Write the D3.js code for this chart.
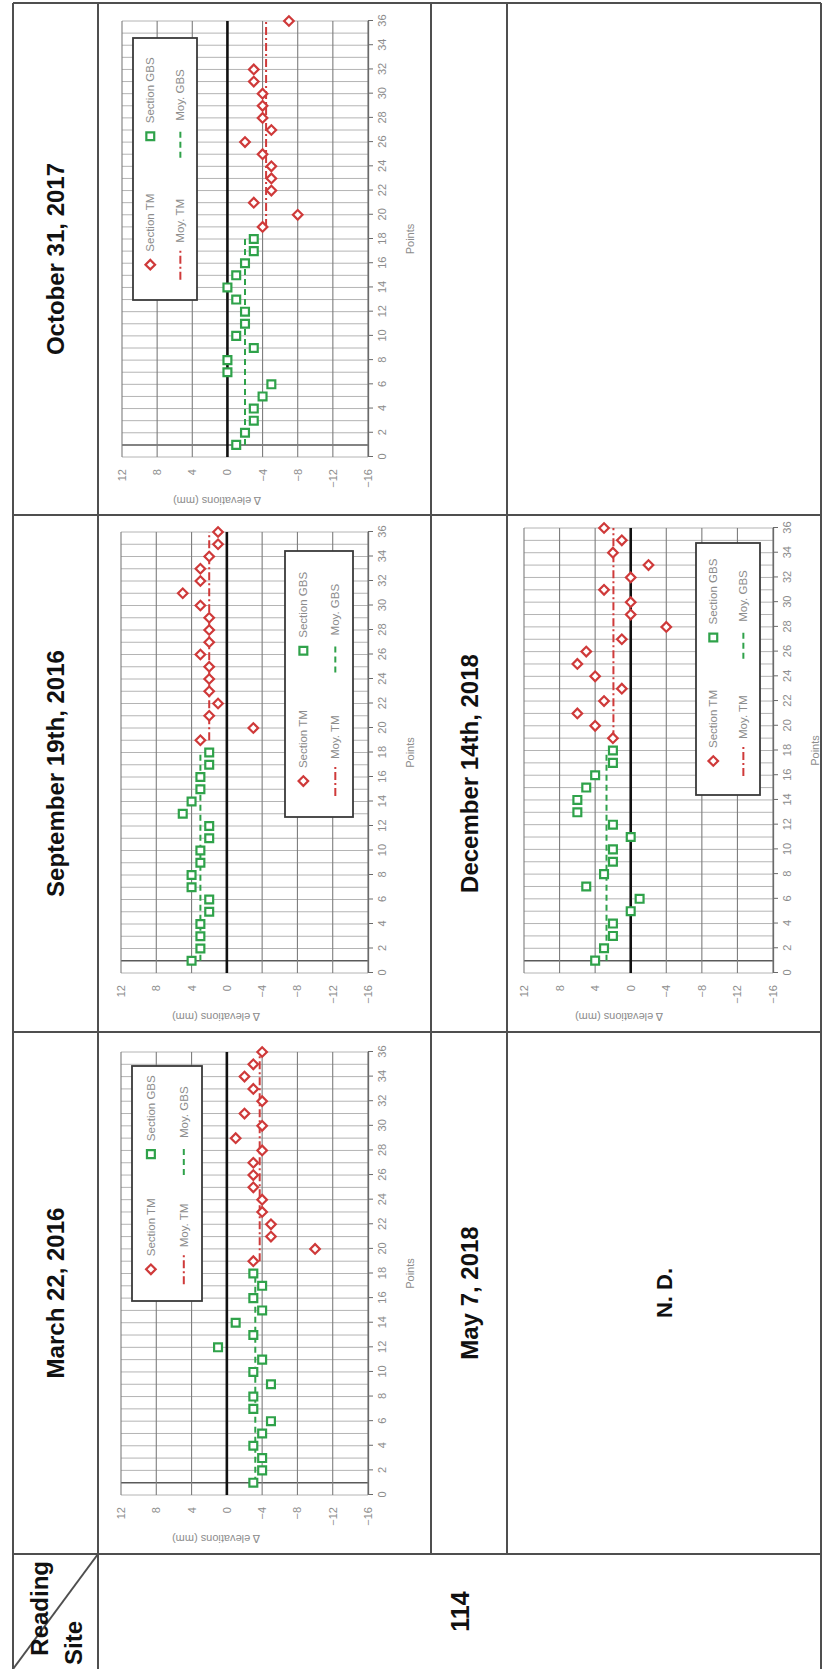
<!DOCTYPE html>
<html>
<head>
<meta charset="utf-8">
<script src="https://cdn.jsdelivr.net/npm/d3@7"></script>
<style>
  html, body { margin: 0; padding: 0; background: #fff; }
  svg { display: block; }
</style>
</head>
<body>
<svg id="page" width="822" height="1669"></svg>
<script>
// ---- data -------------------------------------------------------------
const pointTicks = d3.range(0, 37, 2);
const elevationTicks = [12, 8, 4, 0, -4, -8, -12, -16];
const gbsPoints = d3.range(1, 19);   // points 1..18 of section GBS
const tmPoints = d3.range(19, 37);   // points 19..36 of section TM

// Δ elevations (mm) per point
const gbsMar2016 = [-3, -4, -4, -3, -4, -5, -3, -3, -5, -3, -4, 1, -3, -1, -4, -3, -4, -3];
const tmMar2016  = [-3, -10, -5, -5, -4, -4, -3, -3, -3, -4, -1, -4, -2, -4, -3, -2, -3, -4];
const gbsSep2016 = [4, 3, 3, 3, 2, 2, 4, 4, 3, 3, 2, 2, 5, 4, 3, 3, 2, 2];
const tmSep2016  = [3, -3, 2, 1, 2, 2, 2, 3, 2, 2, 2, 3, 5, 3, 3, 2, 1, 1];
const gbsOct2017 = [-1, -2, -3, -3, -4, -5, 0, 0, -3, -1, -2, -2, -1, 0, -1, -2, -3, -3];
const tmOct2017  = [-4, -8, -3, -5, -5, -5, -4, -2, -5, -4, -4, -4, -3, -3, null, null, null, -7];
const gbsDec2018 = [4, 3, 2, 2, 0, -1, 5, 3, 2, 2, 0, 2, 6, 6, 5, 4, 2, 2];
const tmDec2018  = [2, 4, 6, 3, 1, 4, 6, 5, 1, -4, 0, 0, 3, 0, -2, 2, 1, 3];

const dateLabels = ["March 22, 2016", "September 19th, 2016", "October 31, 2017",
                    "May 7, 2018", "December 14th, 2018"];
const siteLabel = "114";
const noDataLabel = "N. D.";
const cornerLabels = ["Reading", "Site"];
const legendLabels = ["Section TM", "Section GBS", "Moy. TM", "Moy. GBS"];
const axisTitles = ["Points", "Δ elevations (mm)"];

// ---- styles -----------------------------------------------------------
const RED = "#cf3a3a";
const GREEN = "#2fa24a";
const GRID_MINOR = "#b4b4b4";
const GRID_MAJOR = "#7d7d7d";
const TICK_TEXT = "#8c8c8c";
const RULE = "#4f4f4f";
const BOLD_FONT = "'Liberation Sans', Arial, sans-serif";
const CHART_FONT = "'Liberation Sans', Arial, sans-serif";

// The sheet is laid out in landscape and turned a quarter turn to fit the page.
const SHEET_W = 1669, SHEET_H = 822;
const svg = d3.select("#page");
const sheet = svg.append("g").attr("transform", `translate(0,${SHEET_W}) rotate(-90)`);

// ---- table grid -------------------------------------------------------
const rowY = { top: 13, head1: 98, mid: 431, head2: 507, bottom: 821 };
const colX = { left: 0, site: 115, c1: 637, c2: 1154, right: 1666 };

const rules = [
  [colX.left, rowY.top, colX.right, rowY.top],
  [colX.left, rowY.head1, colX.right, rowY.head1],
  [colX.site, rowY.mid, colX.right, rowY.mid],
  [colX.site, rowY.head2, colX.right, rowY.head2],
  [colX.left, rowY.bottom, colX.right, rowY.bottom],
  [colX.site, rowY.top, colX.site, rowY.bottom],
  [colX.c1, rowY.top, colX.c1, rowY.bottom],
  [colX.c2, rowY.top, colX.c2, rowY.bottom],
  [colX.right, rowY.top, colX.right, rowY.bottom],
  [colX.left, rowY.top, colX.site, rowY.head1] // diagonal of the corner cell
];
sheet.append("g").selectAll("line").data(rules).join("line")
  .attr("x1", d => d[0]).attr("y1", d => d[1])
  .attr("x2", d => d[2]).attr("y2", d => d[3])
  .attr("stroke", RULE).attr("stroke-width", 2);

// ---- header texts -----------------------------------------------------
const headerCells = [
  { text: dateLabels[0], x: (colX.site + colX.c1) / 2, y: (rowY.top + rowY.head1) / 2 },
  { text: dateLabels[1], x: (colX.c1 + colX.c2) / 2, y: (rowY.top + rowY.head1) / 2 },
  { text: dateLabels[2], x: (colX.c2 + colX.right) / 2, y: (rowY.top + rowY.head1) / 2 },
  { text: dateLabels[3], x: (colX.site + colX.c1) / 2, y: (rowY.mid + rowY.head2) / 2 },
  { text: dateLabels[4], x: (colX.c1 + colX.c2) / 2, y: (rowY.mid + rowY.head2) / 2 }
];
sheet.append("g").selectAll("text").data(headerCells).join("text")
  .attr("x", d => d.x).attr("y", d => d.y)
  .attr("text-anchor", "middle").attr("dominant-baseline", "central")
  .attr("font-family", BOLD_FONT).attr("font-weight", "bold").attr("font-size", 24)
  .attr("fill", "#111").text(d => d.text);

sheet.append("text")
  .attr("x", (colX.left + colX.site) / 2).attr("y", (rowY.head1 + rowY.bottom) / 2)
  .attr("text-anchor", "middle").attr("dominant-baseline", "central")
  .attr("font-family", BOLD_FONT).attr("font-weight", "bold").attr("font-size", 25)
  .attr("fill", "#111").text(siteLabel);

sheet.append("text")
  .attr("x", (colX.site + colX.c1) / 2).attr("y", (rowY.head2 + rowY.bottom) / 2)
  .attr("text-anchor", "middle").attr("dominant-baseline", "central")
  .attr("font-family", BOLD_FONT).attr("font-weight", "bold").attr("font-size", 22)
  .attr("fill", "#111").text(noDataLabel);

sheet.append("text")
  .attr("x", colX.site - 7).attr("y", 48)
  .attr("text-anchor", "end")
  .attr("font-family", BOLD_FONT).attr("font-weight", "bold").attr("font-size", 24)
  .attr("fill", "#111").text(cornerLabels[0]);
sheet.append("text")
  .attr("x", 4).attr("y", 82)
  .attr("font-family", BOLD_FONT).attr("font-weight", "bold").attr("font-size", 24)
  .attr("fill", "#111").text(cornerLabels[1]);

// ---- charts -----------------------------------------------------------
const charts = [
  { gbs: gbsMar2016, tm: tmMar2016, x0: 174, x1: 617, y0: 121, y1: 368, legend: [368, 132, 235, 70] },
  { gbs: gbsSep2016, tm: tmSep2016, x0: 696, x1: 1137, y0: 121, y1: 368, legend: [852, 285, 266, 68] },
  { gbs: gbsOct2017, tm: tmOct2017, x0: 1212, x1: 1648, y0: 122, y1: 368, legend: [1369, 133, 262, 64] },
  { gbs: gbsDec2018, tm: tmDec2018, x0: 696, x1: 1141, y0: 524, y1: 773, legend: [874, 696, 252, 64] }
];

const diamond = d3.symbol().type(d3.symbolSquare).size(46);
const square = d3.symbol().type(d3.symbolSquare).size(62);

function drawChart(c) {
  const x = d3.scaleLinear().domain([0, 36]).range([c.x0, c.x1]);
  const y = d3.scaleLinear().domain([-16, 12]).range([c.y1, c.y0]);
  const g = sheet.append("g");

  // one vertical rule per point
  g.append("g").selectAll("line").data(d3.range(0, 37)).join("line")
    .attr("x1", d => x(d)).attr("x2", d => x(d))
    .attr("y1", y(12)).attr("y2", y(-16))
    .attr("stroke", d => d === 1 ? "#5a5a5a" : GRID_MINOR)
    .attr("stroke-width", d => d === 1 ? 1.5 : 1);

  // elevation gridlines every 4 mm
  g.append("g").selectAll("line").data(elevationTicks.filter(v => v !== 0)).join("line")
    .attr("x1", x(0)).attr("x2", x(36))
    .attr("y1", d => y(d)).attr("y2", d => y(d))
    .attr("stroke", GRID_MAJOR).attr("stroke-width", 1.1);

  // points axis along the bottom
  const xAxis = g.append("g").attr("transform", `translate(0,${y(-16)})`)
    .call(d3.axisBottom(x).tickValues(pointTicks).tickSizeInner(5).tickSizeOuter(0).tickPadding(5));
  xAxis.select(".domain").attr("stroke", "#6a6a6a").attr("stroke-width", 1.3);
  xAxis.selectAll(".tick line").attr("stroke", "#6a6a6a");
  xAxis.selectAll(".tick text").attr("fill", TICK_TEXT)
    .attr("font-family", CHART_FONT).attr("font-size", 11);

  // elevation labels on the left
  const yAxis = g.append("g").attr("transform", `translate(${x(0)},0)`)
    .call(d3.axisLeft(y).tickValues(elevationTicks).tickSize(0).tickPadding(12));
  yAxis.select(".domain").remove();
  yAxis.selectAll(".tick text").attr("fill", TICK_TEXT)
    .attr("font-family", CHART_FONT).attr("font-size", 11);

  // axis titles
  g.append("text").attr("x", (x(0) + x(36)) / 2).attr("y", y(-16) + 46)
    .attr("text-anchor", "middle").attr("fill", TICK_TEXT)
    .attr("font-family", CHART_FONT).attr("font-size", 11).text(axisTitles[0]);
  g.append("text")
    .attr("transform", `translate(${x(0) - 40},${y(12) + 95}) rotate(-90)`)
    .attr("text-anchor", "middle").attr("fill", TICK_TEXT)
    .attr("font-family", CHART_FONT).attr("font-size", 11).text(axisTitles[1]);

  // zero reference
  g.append("line").attr("x1", x(0)).attr("x2", x(36))
    .attr("y1", y(0)).attr("y2", y(0))
    .attr("stroke", "#111").attr("stroke-width", 2.6);

  // section averages
  const gbsPairs = gbsPoints.map((p, i) => [p, c.gbs[i]]).filter(d => d[1] != null);
  const tmPairs = tmPoints.map((p, i) => [p, c.tm[i]]).filter(d => d[1] != null);
  const gbsMean = d3.mean(gbsPairs, d => d[1]);
  const tmMean = d3.mean(tmPairs, d => d[1]);
  const meanLine = d3.line().x(d => x(d[0])).y(d => y(d[1]));
  g.append("path").datum([[1, gbsMean], [18, gbsMean]]).attr("d", meanLine)
    .attr("fill", "none").attr("stroke", GREEN).attr("stroke-width", 2)
    .attr("stroke-dasharray", "6,4");
  g.append("path").datum([[19, tmMean], [36, tmMean]]).attr("d", meanLine)
    .attr("fill", "none").attr("stroke", RED).attr("stroke-width", 2)
    .attr("stroke-dasharray", "8,3,2,3");

  // section points
  g.append("g").selectAll("path").data(gbsPairs).join("path")
    .attr("d", square)
    .attr("transform", d => `translate(${x(d[0])},${y(d[1])})`)
    .attr("fill", "#fff").attr("stroke", GREEN).attr("stroke-width", 2.2);
  g.append("g").selectAll("path").data(tmPairs).join("path")
    .attr("d", diamond)
    .attr("transform", d => `translate(${x(d[0])},${y(d[1])}) rotate(45)`)
    .attr("fill", "#fff").attr("stroke", RED).attr("stroke-width", 2.2);

  // legend
  const [lx, ly, lw, lh] = c.legend;
  const lg = g.append("g");
  lg.append("rect").attr("x", lx).attr("y", ly).attr("width", lw).attr("height", lh)
    .attr("fill", "#fff").attr("stroke", "#3a3a3a").attr("stroke-width", 1.8);
  const r1 = ly + lh * 0.27, r2 = ly + lh * 0.74;
  const legendItems = [
    { kind: "diamond", label: legendLabels[0], mx: lx + lw * 0.135, ty: r1 },
    { kind: "square", label: legendLabels[1], mx: lx + lw * 0.625, ty: r1 },
    { kind: "tmLine", label: legendLabels[2], mx: lx + lw * 0.135, ty: r2 },
    { kind: "gbsLine", label: legendLabels[3], mx: lx + lw * 0.6, ty: r2 }
  ];
  legendItems.forEach(it => {
    if (it.kind === "diamond") {
      lg.append("path").attr("d", diamond)
        .attr("transform", `translate(${it.mx},${it.ty}) rotate(45)`)
        .attr("fill", "#fff").attr("stroke", RED).attr("stroke-width", 2.2);
    } else if (it.kind === "square") {
      lg.append("path").attr("d", square)
        .attr("transform", `translate(${it.mx},${it.ty})`)
        .attr("fill", "#fff").attr("stroke", GREEN).attr("stroke-width", 2.2);
    } else {
      const isTm = it.kind === "tmLine";
      lg.append("line").attr("x1", it.mx - 15).attr("x2", it.mx + 15)
        .attr("y1", it.ty).attr("y2", it.ty)
        .attr("stroke", isTm ? RED : GREEN).attr("stroke-width", 2)
        .attr("stroke-dasharray", isTm ? "8,3,2,3" : "6,4");
    }
    lg.append("text").attr("x", it.mx + (it.kind.endsWith("Line") ? 22 : 13)).attr("y", it.ty)
      .attr("dominant-baseline", "central").attr("fill", TICK_TEXT)
      .attr("font-family", CHART_FONT).attr("font-size", 11.5).text(it.label);
  });
}

charts.forEach(drawChart);
</script>
</body>
</html>
